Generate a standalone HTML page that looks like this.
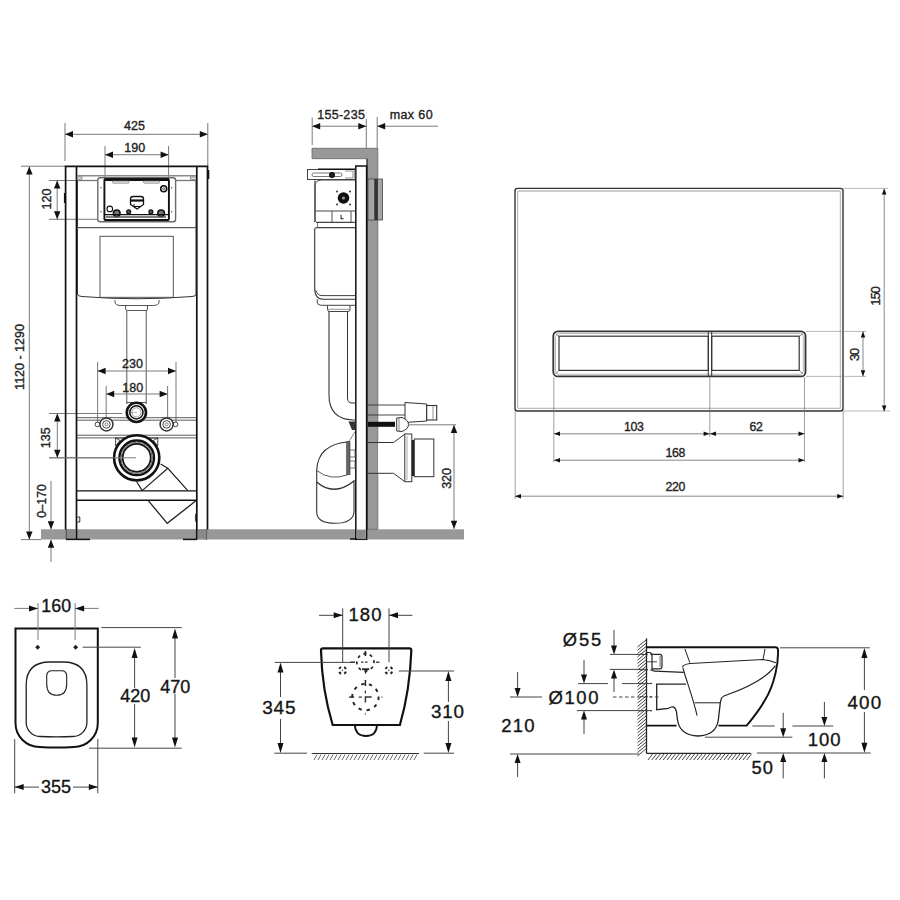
<!DOCTYPE html>
<html><head><meta charset="utf-8"><style>
html,body{margin:0;padding:0;background:#fff;width:900px;height:900px;overflow:hidden}
svg{display:block}
text{font-family:"Liberation Sans", sans-serif}
</style></head><body>
<svg width="900" height="900" viewBox="0 0 900 900">
<rect x="0" y="0" width="900" height="900" fill="#fff"/>
<rect x="41" y="529.3" width="423" height="10.2" rx="0" stroke="none" stroke-width="0" fill="#989898" />
<line x1="65" y1="123" x2="65" y2="161" stroke="#7a7a7a" stroke-width="1.0" />
<line x1="207.8" y1="123" x2="207.8" y2="166" stroke="#7a7a7a" stroke-width="1.0" />
<line x1="65" y1="134.3" x2="207.8" y2="134.3" stroke="#7a7a7a" stroke-width="1.0" />
<polygon points="65,134.3 73,131.05 73,137.55" fill="#111"/>
<polygon points="207.8,134.3 199.8,131.05 199.8,137.55" fill="#111"/>
<text x="134.5" y="126.3" font-size="12.5" text-anchor="middle" dominant-baseline="central" fill="#222" stroke="#222" stroke-width="0.35">425</text>
<line x1="105" y1="146" x2="105" y2="178" stroke="#7a7a7a" stroke-width="1.0" />
<line x1="168.6" y1="146" x2="168.6" y2="178" stroke="#7a7a7a" stroke-width="1.0" />
<line x1="105" y1="154.7" x2="168.6" y2="154.7" stroke="#7a7a7a" stroke-width="1.0" />
<polygon points="105,154.7 113,151.45 113,157.95" fill="#111"/>
<polygon points="168.6,154.7 160.6,151.45 160.6,157.95" fill="#111"/>
<text x="134.8" y="148" font-size="12.5" text-anchor="middle" dominant-baseline="central" fill="#222" stroke="#222" stroke-width="0.35">190</text>
<line x1="21" y1="166.2" x2="65" y2="166.2" stroke="#7a7a7a" stroke-width="1.0" />
<line x1="29.3" y1="166.5" x2="29.3" y2="539.5" stroke="#7a7a7a" stroke-width="1.0" />
<polygon points="29.3,166.5 26.05,174.5 32.55,174.5" fill="#111"/>
<polygon points="29.3,539.5 26.05,531.5 32.55,531.5" fill="#111"/>
<line x1="21" y1="539.6" x2="41" y2="539.6" stroke="#7a7a7a" stroke-width="1.0" />
<text x="19.5" y="357" font-size="12.5" text-anchor="middle" dominant-baseline="central" fill="#222" transform="rotate(-90 19.5 357)" stroke="#222" stroke-width="0.35">1120 - 1290</text>
<line x1="49" y1="180.5" x2="98" y2="180.5" stroke="#7a7a7a" stroke-width="1.0" />
<line x1="49" y1="219.3" x2="98" y2="219.3" stroke="#7a7a7a" stroke-width="1.0" />
<line x1="57.2" y1="180.5" x2="57.2" y2="219.3" stroke="#7a7a7a" stroke-width="1.0" />
<polygon points="57.2,180.5 53.95,188.5 60.45,188.5" fill="#111"/>
<polygon points="57.2,219.3 53.95,211.3 60.45,211.3" fill="#111"/>
<text x="46.5" y="199" font-size="12.5" text-anchor="middle" dominant-baseline="central" fill="#222" transform="rotate(-90 46.5 199)" stroke="#222" stroke-width="0.35">120</text>
<line x1="49" y1="413.5" x2="122" y2="413.5" stroke="#7a7a7a" stroke-width="1.0" />
<line x1="49" y1="457.8" x2="136" y2="457.8" stroke="#7a7a7a" stroke-width="1.0" />
<line x1="57.3" y1="413.5" x2="57.3" y2="457.8" stroke="#7a7a7a" stroke-width="1.0" />
<polygon points="57.3,413.5 54.05,421.5 60.55,421.5" fill="#111"/>
<polygon points="57.3,457.8 54.05,449.8 60.55,449.8" fill="#111"/>
<text x="46.2" y="437.7" font-size="12.5" text-anchor="middle" dominant-baseline="central" fill="#222" transform="rotate(-90 46.2 437.7)" stroke="#222" stroke-width="0.35">135</text>
<line x1="51" y1="481" x2="51" y2="529.3" stroke="#7a7a7a" stroke-width="1.0" />
<polygon points="51,529.3 47.75,521.3 54.25,521.3" fill="#111"/>
<line x1="51" y1="540" x2="51" y2="562" stroke="#7a7a7a" stroke-width="1.0" />
<polygon points="51,539.8 47.75,547.8 54.25,547.8" fill="#111"/>
<text x="42.2" y="501.1" font-size="12" text-anchor="middle" dominant-baseline="central" fill="#222" transform="rotate(-90 42.2 501.1)" stroke="#222" stroke-width="0.35">0–170</text>
<line x1="65.6" y1="166.4" x2="65.6" y2="529.5" stroke="#111" stroke-width="1.7" />
<line x1="76.5" y1="166.4" x2="76.5" y2="539.5" stroke="#111" stroke-width="1.7" />
<line x1="196.8" y1="166.4" x2="196.8" y2="539.5" stroke="#111" stroke-width="1.7" />
<line x1="207.5" y1="166.4" x2="207.5" y2="529.5" stroke="#111" stroke-width="1.7" />
<line x1="66.6" y1="529.3" x2="66.6" y2="539.5" stroke="#111" stroke-width="1.5" />
<line x1="206.3" y1="529.3" x2="206.3" y2="539.5" stroke="#111" stroke-width="1.5" />
<line x1="64.8" y1="166.4" x2="208.3" y2="166.4" stroke="#111" stroke-width="1.8" />
<rect x="66.4" y="529.3" width="9.3" height="10" rx="0" stroke="none" stroke-width="0" fill="#8a8a8a" />
<rect x="197.6" y="529.3" width="9.1" height="10" rx="0" stroke="none" stroke-width="0" fill="#8a8a8a" />
<line x1="66" y1="539.4" x2="90" y2="539.4" stroke="#111" stroke-width="1.5" />
<line x1="183" y1="539.4" x2="196.8" y2="539.4" stroke="#111" stroke-width="1.5" />
<path d="M64.6,193 L64.6,203" stroke="#111" stroke-width="1.4" fill="none" />
<path d="M208.6,170 L208.6,179" stroke="#111" stroke-width="1.4" fill="none" />
<path d="M77.6,517 L79.8,517 L79.8,522 L77.6,522" stroke="#111" stroke-width="0.9" fill="none" />
<path d="M196,513.5 Q194.6,517.8 196,522" stroke="#111" stroke-width="0.9" fill="none" />
<line x1="77" y1="175.8" x2="196" y2="175.8" stroke="#8a8a8a" stroke-width="1.5" />
<path d="M77.5,177 L82,177 L82,179.2 L77.5,179.2 M196,177 L190.5,177 L190.5,179.2 L196,179.2" stroke="#666" stroke-width="0.8" fill="none" />
<path d="M77.5,180 L77.5,227.7 L196,227.7 L196,180" stroke="#333" stroke-width="1.0" fill="none" />
<line x1="77.5" y1="180.5" x2="97" y2="180.5" stroke="#777" stroke-width="1.3" />
<line x1="176" y1="180.5" x2="196" y2="180.5" stroke="#777" stroke-width="1.3" />
<rect x="97.8" y="177.8" width="77.8" height="44" rx="2.5" stroke="#6a6a6a" stroke-width="1.4" fill="#fff" />
<rect x="104.4" y="179.2" width="64.5" height="40.8" rx="1" stroke="#111" stroke-width="1.9" fill="none" />
<line x1="104.4" y1="179.6" x2="168.9" y2="179.6" stroke="#111" stroke-width="2.6" />
<path d="M112,181 L129.4,181 L128.5,183.3 L113,183.3 Z M143,181 L160,181 L159,183.3 L144,183.3 Z" stroke="#777" stroke-width="0.6" fill="#ddd" />
<circle cx="163.7" cy="188.7" r="3.0" stroke="#111" stroke-width="1.6" fill="#fff" />
<circle cx="163.7" cy="188.7" r="1.0" stroke="#444" stroke-width="0.8" fill="none" />
<circle cx="109.8" cy="208.9" r="2.8" stroke="#111" stroke-width="1.1" fill="none" />
<path d="M130.5,204.5 L130.5,199 Q130.5,196.5 133,196.5 L141,196.5 Q143.5,196.5 143.5,199 L143.5,204.5 L137,209 Z" stroke="#111" stroke-width="1.3" fill="none" />
<line x1="130.5" y1="200.5" x2="143.5" y2="200.5" stroke="#111" stroke-width="2.2" />
<path d="M134,204 L134,206.5 L141,206.5" stroke="#111" stroke-width="1.0" fill="none" />
<circle cx="116.7" cy="213.3" r="3.3" stroke="#111" stroke-width="1.6" fill="#777" />
<circle cx="161.1" cy="213.3" r="3.3" stroke="#111" stroke-width="1.6" fill="#777" />
<circle cx="128.7" cy="211.8" r="2.0" stroke="#111" stroke-width="1.2" fill="#555" />
<circle cx="150.9" cy="211.8" r="2.0" stroke="#111" stroke-width="1.2" fill="#555" />
<line x1="105" y1="214.6" x2="168.5" y2="214.6" stroke="#111" stroke-width="1.2" />
<path d="M106,217 L166,217" stroke="#555" stroke-width="1.4" fill="none" />
<circle cx="101" cy="187.8" r="0.7" stroke="none" stroke-width="0" fill="#444" />
<circle cx="101" cy="211.7" r="0.7" stroke="none" stroke-width="0" fill="#444" />
<circle cx="171.7" cy="187.8" r="0.7" stroke="none" stroke-width="0" fill="#444" />
<circle cx="171.7" cy="211.7" r="0.7" stroke="none" stroke-width="0" fill="#444" />
<path d="M77.5,228.5 L77.5,294 Q78,296.5 82,296.5 Q137,301 192,296.5 Q196,296.5 196,294 L196,228.5" stroke="#333" stroke-width="1.0" fill="none" />
<rect x="100" y="236.3" width="73.3" height="61" rx="0" stroke="#444" stroke-width="0.9" fill="none" />
<path d="M115,300 L115,303 Q116,305.5 120,305.5 L154,305.5 Q158,305.5 159,303 L159,300" stroke="#444" stroke-width="0.9" fill="none" />
<path d="M125.6,305.5 L125.6,309 Q126,310.5 127.5,310.5 L146,310.5 Q147.5,310.5 147.5,309 L147.5,305.5" stroke="#444" stroke-width="0.9" fill="none" />
<line x1="126.8" y1="310.5" x2="126.8" y2="404" stroke="#444" stroke-width="0.9" />
<line x1="146.2" y1="310.5" x2="146.2" y2="404" stroke="#444" stroke-width="0.9" />
<line x1="97.6" y1="362" x2="97.6" y2="424" stroke="#7a7a7a" stroke-width="1.0" />
<line x1="176" y1="362" x2="176" y2="424" stroke="#7a7a7a" stroke-width="1.0" />
<line x1="97.6" y1="371" x2="176" y2="371" stroke="#7a7a7a" stroke-width="1.0" />
<polygon points="97.6,371 105.6,367.75 105.6,374.25" fill="#111"/>
<polygon points="176,371 168,367.75 168,374.25" fill="#111"/>
<text x="132.5" y="364" font-size="12.5" text-anchor="middle" dominant-baseline="central" fill="#222" stroke="#222" stroke-width="0.35">230</text>
<line x1="106.2" y1="386" x2="106.2" y2="424" stroke="#7a7a7a" stroke-width="1.0" />
<line x1="167.6" y1="386" x2="167.6" y2="424" stroke="#7a7a7a" stroke-width="1.0" />
<line x1="106.2" y1="394" x2="167.6" y2="394" stroke="#7a7a7a" stroke-width="1.0" />
<polygon points="106.2,394 114.2,390.75 114.2,397.25" fill="#111"/>
<polygon points="167.6,394 159.6,390.75 159.6,397.25" fill="#111"/>
<text x="132.7" y="388" font-size="12.5" text-anchor="middle" dominant-baseline="central" fill="#222" stroke="#222" stroke-width="0.35">180</text>
<line x1="77" y1="417.7" x2="196" y2="417.7" stroke="#333" stroke-width="0.8" />
<line x1="77" y1="420.2" x2="196" y2="420.2" stroke="#333" stroke-width="0.8" />
<line x1="77" y1="435.2" x2="196" y2="435.2" stroke="#333" stroke-width="0.8" />
<line x1="77" y1="437.9" x2="196" y2="437.9" stroke="#333" stroke-width="0.8" />
<line x1="126.8" y1="402.5" x2="146.2" y2="402.5" stroke="#444" stroke-width="0.9" />
<circle cx="136.4" cy="412.4" r="9.6" stroke="#111" stroke-width="2.6" fill="#fff" />
<circle cx="136.4" cy="412.4" r="6.6" stroke="#111" stroke-width="1.5" fill="none" />
<circle cx="136.4" cy="412.4" r="4.6" stroke="#777" stroke-width="0.7" fill="none" />
<line x1="131" y1="412.4" x2="137" y2="412.4" stroke="#888" stroke-width="0.6" />
<circle cx="97.4" cy="424.4" r="2.3" stroke="#444" stroke-width="1.0" fill="#fff" />
<circle cx="106.4" cy="424.4" r="6.5" stroke="#333" stroke-width="1.5" fill="#fff" />
<circle cx="106.4" cy="424.4" r="3.8" stroke="#444" stroke-width="1.0" fill="none" />
<circle cx="106.4" cy="424.4" r="1.5" stroke="#555" stroke-width="0.7" fill="none" />
<circle cx="175.6" cy="424.4" r="2.3" stroke="#444" stroke-width="1.0" fill="#fff" />
<circle cx="166.6" cy="424.4" r="6.5" stroke="#333" stroke-width="1.5" fill="#fff" />
<circle cx="166.6" cy="424.4" r="3.8" stroke="#444" stroke-width="1.0" fill="none" />
<circle cx="166.6" cy="424.4" r="1.5" stroke="#555" stroke-width="0.7" fill="none" />
<path d="M115.6,438 L115.6,446 L120,440.5 Z M157.8,438 L157.8,446 L153.4,440.5 Z" stroke="#333" stroke-width="0.9" fill="none" />
<line x1="115.6" y1="438" x2="157.8" y2="438" stroke="#333" stroke-width="0.9" />
<path d="M160.6,463.9 L167.8,468.3 L187.8,490.6 M142.2,490.6 L167.8,468.3 M136.7,481.7 L142.2,490.6" stroke="#222" stroke-width="1.2" fill="none" />
<path d="M148.3,500.6 L167.2,523.3 L195.6,501.1" stroke="#222" stroke-width="1.3" fill="none" />
<circle cx="136.7" cy="457.8" r="22.6" stroke="#111" stroke-width="2.6" fill="#fff" />
<circle cx="136.7" cy="457.8" r="17.3" stroke="#111" stroke-width="2.4" fill="none" />
<circle cx="136.7" cy="457.8" r="15.7" stroke="#666" stroke-width="1.0" fill="none" />
<circle cx="136.7" cy="457.8" r="14.0" stroke="#111" stroke-width="1.7" fill="none" />
<line x1="49" y1="457.8" x2="136" y2="457.8" stroke="#7a7a7a" stroke-width="1.0" />
<line x1="77" y1="490.9" x2="196" y2="490.9" stroke="#111" stroke-width="1.4" />
<line x1="77" y1="500.2" x2="196" y2="500.2" stroke="#111" stroke-width="1.4" />
<line x1="312.2" y1="117.5" x2="312.2" y2="145" stroke="#7a7a7a" stroke-width="1.0" />
<line x1="366.3" y1="119" x2="366.3" y2="148" stroke="#7a7a7a" stroke-width="1.0" />
<line x1="312.2" y1="126.2" x2="366.3" y2="126.2" stroke="#7a7a7a" stroke-width="1.0" />
<polygon points="312.2,126.2 320.2,122.95 320.2,129.45" fill="#111"/>
<polygon points="366.3,126.2 358.3,122.95 358.3,129.45" fill="#111"/>
<text x="341.15" y="114.6" font-size="12.5" text-anchor="middle" dominant-baseline="central" fill="#222" letter-spacing="0.3" stroke="#222" stroke-width="0.35">155-235</text>
<line x1="377.2" y1="117" x2="377.2" y2="148" stroke="#7a7a7a" stroke-width="1.0" />
<line x1="377.2" y1="126.2" x2="438" y2="126.2" stroke="#7a7a7a" stroke-width="1.0" />
<polygon points="377.2,126.2 385.2,122.95 385.2,129.45" fill="#111"/>
<text x="411.4" y="114.5" font-size="12.5" text-anchor="middle" dominant-baseline="central" fill="#222" letter-spacing="0.4" stroke="#222" stroke-width="0.35">max 60</text>
<path d="M312,148.3 L377.8,148.3 L377.8,529.3 L366.7,529.3 L366.7,158.7 L312,158.7 Z" stroke="#666" stroke-width="0.8" fill="#989898" />
<line x1="367.2" y1="158.7" x2="367.2" y2="529.3" stroke="#444" stroke-width="1.3" />
<rect x="355.8" y="166" width="10.8" height="373.3" rx="0" stroke="#111" stroke-width="1.5" fill="#fff" />
<rect x="356.8" y="529.6" width="9" height="9.5" rx="0" stroke="none" stroke-width="0" fill="#8a8a8a" />
<line x1="350" y1="539" x2="357" y2="539" stroke="#111" stroke-width="1.5" />
<rect x="307.5" y="169.5" width="47.5" height="10" rx="0" stroke="#444" stroke-width="1.0" fill="#fff" />
<rect x="312" y="173" width="30" height="3.5" rx="1.7" stroke="#555" stroke-width="0.8" fill="none" />
<circle cx="332" cy="175" r="2.4" stroke="#111" stroke-width="1.2" fill="#222" />
<line x1="318" y1="169.3" x2="355" y2="169.3" stroke="#111" stroke-width="1.4" />
<path d="M345,171 L353,171 L353,178 L345,178" stroke="#666" stroke-width="0.7" fill="none" />
<path d="M315,222 L315,186 Q315,180 322,180 L355,180" stroke="#444" stroke-width="1.0" fill="none" />
<line x1="315" y1="180.5" x2="315" y2="222" stroke="#444" stroke-width="1.2" />
<circle cx="343.5" cy="198" r="5.8" stroke="none" stroke-width="0" fill="#111" />
<circle cx="343.5" cy="198" r="1.6" stroke="none" stroke-width="0" fill="#999" />
<circle cx="337" cy="191.5" r="0.9" stroke="none" stroke-width="0" fill="#222" />
<circle cx="350" cy="191.5" r="0.9" stroke="none" stroke-width="0" fill="#222" />
<circle cx="337" cy="204.5" r="0.9" stroke="none" stroke-width="0" fill="#222" />
<circle cx="350" cy="204.5" r="0.9" stroke="none" stroke-width="0" fill="#222" />
<line x1="316" y1="211" x2="355" y2="211" stroke="#444" stroke-width="1.0" />
<line x1="316" y1="222.3" x2="355" y2="222.3" stroke="#444" stroke-width="1.2" />
<line x1="332" y1="211" x2="332" y2="222" stroke="#555" stroke-width="1.0" />
<line x1="351" y1="211" x2="351" y2="222" stroke="#555" stroke-width="1.0" />
<text x="342" y="216.8" font-size="6" text-anchor="middle" dominant-baseline="central" fill="#333" stroke="#222" stroke-width="0.35">L</text>
<path d="M317.5,222.5 L317.5,227.5 L355,227.5" stroke="#555" stroke-width="0.8" fill="none" />
<rect x="368" y="179" width="14.5" height="41" rx="0" stroke="#444" stroke-width="0.8" fill="#a5a5a5" />
<rect x="374.3" y="179" width="3.6" height="41" rx="0" stroke="none" stroke-width="0" fill="#333" />
<path d="M355,227.8 L316.5,227.8 Q314.7,227.8 314.7,229.6 L314.7,288 Q314.7,299.2 323,299.2 L355,299.2" stroke="#333" stroke-width="1.1" fill="none" />
<path d="M316,290.5 Q317.5,295.6 322,295.6 L355,295.6" stroke="#444" stroke-width="1.0" fill="none" />
<path d="M317.3,299.2 L317.3,302 Q317.3,305.3 321,305.3 L355,305.3" stroke="#444" stroke-width="1.0" fill="none" />
<path d="M327.5,305.3 L327.5,309.5 Q327.5,311.5 329.5,311.5 L348,311.5 Q350,311.5 350,309.5 L350,305.3" stroke="#444" stroke-width="1.0" fill="none" />
<line x1="328" y1="309.3" x2="349.5" y2="309.3" stroke="#666" stroke-width="0.7" />
<path d="M329,311 L329,395 Q329,419 353,420 L355.5,420" stroke="#333" stroke-width="1.1" fill="none" />
<path d="M347.5,311 L347.5,398 Q347.5,403 352,403 L355.5,403" stroke="#333" stroke-width="1.0" fill="none" />
<path d="M349,441.7 Q318,444 316.7,470 L316.7,512 Q317,523.3 335,523.3 Q353,523.3 354,512 L354,480" stroke="#333" stroke-width="1.1" fill="none" />
<path d="M316.7,470.5 Q330,481 347,475" stroke="#444" stroke-width="0.9" fill="none" />
<path d="M316.7,482 Q334,497 354,481" stroke="#333" stroke-width="1.4" fill="none" />
<rect x="346.7" y="441.7" width="3.3" height="33" rx="0" stroke="#333" stroke-width="0.6" fill="#666" />
<path d="M350,450 L355,450 L355,457 L350,457 M350,461 L355,461 L355,468 L350,468" stroke="#555" stroke-width="0.8" fill="none" />
<path d="M349,441.7 L355,431.5" stroke="#666" stroke-width="0.8" fill="none" />
<polygon points="348.5,421.5 355.5,421.5 355.5,430 352,430" fill="#333"/>
<line x1="368" y1="405" x2="405" y2="405" stroke="#333" stroke-width="0.9" />
<line x1="368" y1="415" x2="405" y2="415" stroke="#333" stroke-width="0.9" />
<path d="M405,402.5 L426.7,404 L426.7,421 L405,422.5 Z" stroke="#333" stroke-width="1.0" fill="#fff" />
<rect x="426.7" y="405.5" width="10" height="14.5" rx="0" stroke="#333" stroke-width="1.1" fill="#fff" />
<line x1="433" y1="406" x2="433" y2="419.5" stroke="#666" stroke-width="0.7" />
<rect x="368" y="421.8" width="27" height="5" rx="0" stroke="none" stroke-width="0" fill="#111" />
<path d="M396.7,418 L402,417.5 Q408.5,420 408.5,424.5 Q408.5,429 402,431.5 L396.7,431 Z" stroke="#333" stroke-width="1.0" fill="#fff" />
<line x1="399" y1="418" x2="399" y2="431" stroke="#555" stroke-width="0.7" />
<path d="M378,442.5 L393.5,442.5 L404.8,434.2 L404.8,481.7 L393.5,473.3 L378,473.3 Z" stroke="none" stroke-width="0" fill="#fff" />
<path d="M368,442.5 L393.5,442.5 L404.8,434.2 M404.8,481.7 L393.5,473.3 L368,473.3" stroke="#333" stroke-width="1.0" fill="none" />
<rect x="404.8" y="434" width="7" height="47.7" rx="0" stroke="#333" stroke-width="1.0" fill="#fff" />
<line x1="407" y1="436" x2="407" y2="480" stroke="#777" stroke-width="0.6" />
<rect x="411.8" y="440" width="2.6" height="36" rx="0" stroke="none" stroke-width="0" fill="#222" />
<rect x="414.3" y="439" width="19.5" height="37.7" rx="0" stroke="#333" stroke-width="1.0" fill="#fff" />
<line x1="408" y1="424.8" x2="456" y2="424.8" stroke="#7a7a7a" stroke-width="1.0" />
<line x1="454" y1="425" x2="454" y2="529" stroke="#7a7a7a" stroke-width="1.0" />
<polygon points="454,425 450.75,433 457.25,433" fill="#111"/>
<polygon points="454,528.8 450.75,520.8 457.25,520.8" fill="#111"/>
<text x="447" y="478.4" font-size="12.5" text-anchor="middle" dominant-baseline="central" fill="#222" transform="rotate(-90 447 478.4)" stroke="#222" stroke-width="0.35">320</text>
<rect x="515" y="188.4" width="328" height="222.6" rx="2.5" stroke="#333" stroke-width="1.4" fill="none" />
<rect x="517.6" y="191.0" width="322.8" height="217.4" rx="1" stroke="#bdbdbd" stroke-width="1.3" fill="none" />
<rect x="553.3" y="331.4" width="252.2" height="45" rx="4.5" stroke="#333" stroke-width="1.8" fill="none" />
<rect x="555.5" y="333.6" width="247.8" height="40.6" rx="3" stroke="#999" stroke-width="0.7" fill="none" />
<rect x="559" y="336.2" width="149.3" height="34.2" rx="0" stroke="#333" stroke-width="1.2" fill="none" />
<rect x="711.7" y="336.2" width="87.5" height="34.2" rx="0" stroke="#333" stroke-width="1.2" fill="none" />
<line x1="708.3" y1="332" x2="708.3" y2="376" stroke="#333" stroke-width="1.0" />
<line x1="711.7" y1="332" x2="711.7" y2="376" stroke="#333" stroke-width="1.0" />
<line x1="559" y1="336.2" x2="555.5" y2="333.6" stroke="#555" stroke-width="0.7" />
<line x1="559" y1="370.4" x2="555.5" y2="374" stroke="#555" stroke-width="0.7" />
<line x1="799.2" y1="336.2" x2="803" y2="333.6" stroke="#555" stroke-width="0.7" />
<line x1="799.2" y1="370.4" x2="803" y2="374" stroke="#555" stroke-width="0.7" />
<line x1="843.5" y1="188.4" x2="888" y2="188.4" stroke="#888" stroke-width="0.6" />
<line x1="843.5" y1="411" x2="890" y2="411" stroke="#888" stroke-width="0.6" />
<line x1="884.2" y1="189" x2="884.2" y2="411" stroke="#555" stroke-width="0.7" />
<polygon points="884.2,188.4 881.95,194.4 886.45,194.4" fill="#111"/>
<polygon points="884.2,411.5 881.95,405.5 886.45,405.5" fill="#111"/>
<text x="875.6" y="296.2" font-size="12.8" text-anchor="middle" dominant-baseline="central" fill="#222" transform="rotate(-90 875.6 296.2)" letter-spacing="-1.0" stroke="#222" stroke-width="0.35">150</text>
<line x1="806" y1="331.4" x2="866" y2="331.4" stroke="#888" stroke-width="0.6" />
<line x1="806" y1="376.4" x2="866" y2="376.4" stroke="#888" stroke-width="0.6" />
<line x1="863" y1="331.4" x2="863" y2="376.4" stroke="#555" stroke-width="0.7" />
<polygon points="863,331.5 860.75,337.5 865.25,337.5" fill="#111"/>
<polygon points="863,376.3 860.75,370.3 865.25,370.3" fill="#111"/>
<text x="854.8" y="354.9" font-size="12.8" text-anchor="middle" dominant-baseline="central" fill="#222" transform="rotate(-90 854.8 354.9)" letter-spacing="-1.0" stroke="#222" stroke-width="0.35">30</text>
<line x1="553.8" y1="377" x2="553.8" y2="462" stroke="#777" stroke-width="0.7" />
<line x1="709.8" y1="377" x2="709.8" y2="437" stroke="#777" stroke-width="0.7" />
<line x1="804.5" y1="377" x2="804.5" y2="462" stroke="#777" stroke-width="0.7" />
<line x1="515.2" y1="411" x2="515.2" y2="499" stroke="#777" stroke-width="0.7" />
<line x1="843.2" y1="411" x2="843.2" y2="499" stroke="#777" stroke-width="0.7" />
<line x1="554" y1="433.8" x2="804.5" y2="433.8" stroke="#555" stroke-width="0.7" />
<polygon points="554,433.8 560,431.55 560,436.05" fill="#111"/>
<polygon points="709.6,433.8 703.6,431.55 703.6,436.05" fill="#111"/>
<polygon points="710,433.8 716,431.55 716,436.05" fill="#111"/>
<polygon points="804.5,433.8 798.5,431.55 798.5,436.05" fill="#111"/>
<text x="633.825" y="427.2" font-size="12.3" text-anchor="middle" dominant-baseline="central" fill="#222" letter-spacing="-0.35" stroke="#222" stroke-width="0.35">103</text>
<text x="755.9250000000001" y="427.2" font-size="12.3" text-anchor="middle" dominant-baseline="central" fill="#222" letter-spacing="-0.35" stroke="#222" stroke-width="0.35">62</text>
<line x1="554" y1="460.2" x2="804.5" y2="460.2" stroke="#555" stroke-width="0.7" />
<polygon points="554,460.2 560,457.95 560,462.45" fill="#111"/>
<polygon points="804.5,460.2 798.5,457.95 798.5,462.45" fill="#111"/>
<text x="675.325" y="452.5" font-size="12.3" text-anchor="middle" dominant-baseline="central" fill="#222" letter-spacing="-0.35" stroke="#222" stroke-width="0.35">168</text>
<line x1="515" y1="496.2" x2="843.2" y2="496.2" stroke="#555" stroke-width="0.7" />
<polygon points="515,496.2 521,493.95 521,498.45" fill="#111"/>
<polygon points="843.2,496.2 837.2,493.95 837.2,498.45" fill="#111"/>
<text x="675.325" y="487.3" font-size="12.3" text-anchor="middle" dominant-baseline="central" fill="#222" letter-spacing="-0.35" stroke="#222" stroke-width="0.35">220</text>
<path d="M15.5,628.4 L97.8,628.4 L97.8,723 C97.8,736.3 87,747 73.8,747 Q56.6,748 39.5,747 C26.3,747 15.5,736.3 15.5,723 Z" stroke="#111" stroke-width="2.0" fill="none" />
<path d="M26.2,722.5 L26.2,685 Q26.2,662 50,662 L63,662 Q86.9,662 86.9,685 L86.9,722.5 C86.9,730.2 80.6,736.5 72.9,736.5 Q56.5,737.2 40.2,736.5 C32.5,736.5 26.2,730.2 26.2,722.5 Z" stroke="#222" stroke-width="1.3" fill="none" />
<path d="M46.7,676 Q46.7,670.7 52,670.7 L61.5,670.7 Q66.7,670.7 66.7,676 L66.7,684 Q66.7,695.3 56.7,695.3 Q46.7,695.3 46.7,684 Z" stroke="#222" stroke-width="1.1" fill="none" />
<polygon points="37.7,644.8 40.2,647.3 37.7,649.8 35.2,647.3" fill="#222"/>
<polygon points="75.6,644.8 78.1,647.3 75.6,649.8 73.1,647.3" fill="#222"/>
<line x1="38" y1="603" x2="38" y2="640" stroke="#7a7a7a" stroke-width="1.0" />
<line x1="75.1" y1="603" x2="75.1" y2="640" stroke="#7a7a7a" stroke-width="1.0" />
<line x1="14.3" y1="608.4" x2="38" y2="608.4" stroke="#7a7a7a" stroke-width="1.0" />
<polygon points="38,608.4 29,605.4 29,611.4" fill="#111"/>
<line x1="75.1" y1="608.4" x2="98.7" y2="608.4" stroke="#7a7a7a" stroke-width="1.0" />
<polygon points="75.1,608.4 84.1,605.4 84.1,611.4" fill="#111"/>
<text x="56.2" y="606" font-size="17.8" text-anchor="middle" dominant-baseline="central" fill="#111" stroke="#222" stroke-width="0.35">160</text>
<line x1="101.3" y1="627.6" x2="181.7" y2="627.6" stroke="#444" stroke-width="1.0" />
<line x1="82.7" y1="647.2" x2="140.8" y2="647.2" stroke="#444" stroke-width="1.0" />
<line x1="89" y1="748.2" x2="181.7" y2="748.2" stroke="#444" stroke-width="1.0" />
<line x1="134.6" y1="656" x2="134.6" y2="688" stroke="#444" stroke-width="1.0" />
<line x1="134.6" y1="704" x2="134.6" y2="740" stroke="#444" stroke-width="1.0" />
<polygon points="134.6,648 131.6,658 137.6,658" fill="#111"/>
<polygon points="134.6,747.5 131.6,737.5 137.6,737.5" fill="#111"/>
<text x="135.2" y="696" font-size="18" text-anchor="middle" dominant-baseline="central" fill="#111" stroke="#222" stroke-width="0.35">420</text>
<line x1="175" y1="636" x2="175" y2="678" stroke="#444" stroke-width="1.0" />
<line x1="175" y1="694" x2="175" y2="740" stroke="#444" stroke-width="1.0" />
<polygon points="175,628.5 172.0,638.5 178.0,638.5" fill="#111"/>
<polygon points="175,747.5 172.0,737.5 178.0,737.5" fill="#111"/>
<text x="175.2" y="686.5" font-size="18" text-anchor="middle" dominant-baseline="central" fill="#111" stroke="#222" stroke-width="0.35">470</text>
<line x1="14.7" y1="739" x2="14.7" y2="793.3" stroke="#444" stroke-width="1.0" />
<line x1="97.8" y1="739" x2="97.8" y2="793.3" stroke="#444" stroke-width="1.0" />
<line x1="14.7" y1="787.1" x2="39" y2="787.1" stroke="#444" stroke-width="1.0" />
<line x1="73" y1="787.1" x2="97.8" y2="787.1" stroke="#444" stroke-width="1.0" />
<polygon points="14.7,787.1 23.7,784.1 23.7,790.1" fill="#111"/>
<polygon points="97.8,787.1 88.8,784.1 88.8,790.1" fill="#111"/>
<text x="56" y="787" font-size="18" text-anchor="middle" dominant-baseline="central" fill="#111" stroke="#222" stroke-width="0.35">355</text>
<path d="M323,648.3 L409.5,648.3 Q411.3,648.3 411.3,650.5 Q410,690 399.9,725 L332.7,725 Q322,690 321,650.5 Q321,648.3 323,648.3 Z" stroke="#111" stroke-width="2.2" fill="none" />
<path d="M354.8,725 Q355.5,736 366,736 Q376.5,736 377,725" stroke="#111" stroke-width="1.8" fill="none" />
<line x1="311.7" y1="753.5" x2="419" y2="753.5" stroke="#333" stroke-width="1.2" />
<path d="M314,760 L317,754.5 M318.0,760 L321.0,754.5 M322.0,760 L325.0,754.5 M326.0,760 L329.0,754.5 M330.0,760 L333.0,754.5 M334.0,760 L337.0,754.5 M338.0,760 L341.0,754.5 M342.0,760 L345.0,754.5 M346.0,760 L349.0,754.5 M350.0,760 L353.0,754.5 M354.0,760 L357.0,754.5 M358.0,760 L361.0,754.5 M362.0,760 L365.0,754.5 M366.0,760 L369.0,754.5 M370.0,760 L373.0,754.5 M374.0,760 L377.0,754.5 M378.0,760 L381.0,754.5 M382.0,760 L385.0,754.5 M386.0,760 L389.0,754.5 M390.0,760 L393.0,754.5 M394.0,760 L397.0,754.5 M398.0,760 L401.0,754.5 M402.0,760 L405.0,754.5 M406.0,760 L409.0,754.5 M410.0,760 L413.0,754.5 M414.0,760 L417.0,754.5 " stroke="#444" stroke-width="0.8" fill="none" />
<line x1="342.7" y1="608.3" x2="342.7" y2="662.3" stroke="#444" stroke-width="1.0" />
<line x1="389" y1="608.3" x2="389" y2="662.3" stroke="#444" stroke-width="1.0" />
<line x1="319" y1="615.3" x2="342.7" y2="615.3" stroke="#444" stroke-width="1.0" />
<polygon points="342.7,615.3 333.7,612.3 333.7,618.3" fill="#111"/>
<line x1="389" y1="615.3" x2="412.4" y2="615.3" stroke="#444" stroke-width="1.0" />
<polygon points="389,615.3 398,612.3 398,618.3" fill="#111"/>
<text x="365.5" y="614.5" font-size="18.5" text-anchor="middle" dominant-baseline="central" fill="#111" letter-spacing="1.0" stroke="#222" stroke-width="0.35">180</text>
<line x1="274.7" y1="662.4" x2="351.7" y2="662.4" stroke="#444" stroke-width="1.0" />
<line x1="274.3" y1="753.2" x2="307" y2="753.2" stroke="#444" stroke-width="1.0" />
<line x1="280.5" y1="671" x2="280.5" y2="697" stroke="#444" stroke-width="1.0" />
<line x1="280.5" y1="719" x2="280.5" y2="745" stroke="#444" stroke-width="1.0" />
<polygon points="280.5,662.5 277.5,672.5 283.5,672.5" fill="#111"/>
<polygon points="280.5,753 277.5,743 283.5,743" fill="#111"/>
<text x="279.29999999999995" y="707.6" font-size="19" text-anchor="middle" dominant-baseline="central" fill="#111" letter-spacing="0.8" stroke="#222" stroke-width="0.35">345</text>
<line x1="398.7" y1="671" x2="454" y2="671" stroke="#444" stroke-width="1.0" />
<line x1="423.7" y1="753.2" x2="454" y2="753.2" stroke="#444" stroke-width="1.0" />
<line x1="448.4" y1="680" x2="448.4" y2="702" stroke="#444" stroke-width="1.0" />
<line x1="448.4" y1="721" x2="448.4" y2="745" stroke="#444" stroke-width="1.0" />
<polygon points="448.4,671 445.4,681 451.4,681" fill="#111"/>
<polygon points="448.4,753 445.4,743 451.4,743" fill="#111"/>
<text x="447.79999999999995" y="711" font-size="18.8" text-anchor="middle" dominant-baseline="central" fill="#111" letter-spacing="0.8" stroke="#222" stroke-width="0.35">310</text>
<circle cx="342.5" cy="670.4" r="3.6" stroke="#222" stroke-width="2.0" fill="none" stroke-dasharray="2.6 3.05" transform="rotate(20 342.5 670.4)"/>
<circle cx="342.5" cy="670.4" r="0.8" stroke="none" stroke-width="0" fill="#666" />
<circle cx="388.8" cy="670.4" r="3.6" stroke="#222" stroke-width="2.0" fill="none" stroke-dasharray="2.6 3.05" transform="rotate(20 388.8 670.4)"/>
<circle cx="388.8" cy="670.4" r="0.8" stroke="none" stroke-width="0" fill="#666" />
<circle cx="365.4" cy="662.3" r="8.6" stroke="#222" stroke-width="1.7" fill="none" stroke-dasharray="3 3.75" transform="rotate(-60 365.4 662.3)"/>
<line x1="365.4" y1="651" x2="365.4" y2="656" stroke="#222" stroke-width="1.6" />
<line x1="350.5" y1="662.2" x2="355" y2="662.2" stroke="#222" stroke-width="1.4" />
<line x1="376" y1="662.2" x2="379.5" y2="662.2" stroke="#222" stroke-width="1.2" />
<line x1="361" y1="662.2" x2="368" y2="662.2" stroke="#333" stroke-width="1.3" stroke-dasharray="2.5 1.5"/>
<line x1="362" y1="669.2" x2="369.2" y2="669.2" stroke="#222" stroke-width="1.8" />
<line x1="365.6" y1="669.2" x2="365.6" y2="673.5" stroke="#222" stroke-width="1.5" />
<circle cx="365.4" cy="697.1" r="13.2" stroke="#222" stroke-width="1.9" fill="none" stroke-dasharray="3.4 4.9" transform="rotate(-75 365.4 697.1)"/>
<line x1="365.4" y1="680" x2="365.4" y2="686" stroke="#222" stroke-width="1.5" />
<line x1="365.4" y1="690.5" x2="365.4" y2="693.5" stroke="#333" stroke-width="1.2" />
<line x1="349.2" y1="697.1" x2="354.2" y2="697.1" stroke="#222" stroke-width="1.4" />
<line x1="358.7" y1="697.1" x2="362" y2="697.1" stroke="#333" stroke-width="1.2" />
<line x1="381" y1="697.1" x2="383" y2="697.1" stroke="#777" stroke-width="0.8" />
<path d="M371.7,697.1 L365.4,697.1 L365.4,702.5" stroke="#333" stroke-width="1.5" fill="none" />
<line x1="365.4" y1="713" x2="365.4" y2="715" stroke="#666" stroke-width="0.9" />
<line x1="646.5" y1="638.3" x2="646.5" y2="753.3" stroke="#222" stroke-width="1.3" />
<line x1="646.5" y1="753.3" x2="750.8" y2="753.3" stroke="#222" stroke-width="1.3" />
<path d="M637.5,647 L646,640 M637.5,650.3 L646,643.3 M637.5,653.5999999999999 L646,646.5999999999999 M637.5,656.8999999999999 L646,649.8999999999999 M637.5,660.1999999999998 L646,653.1999999999998 M637.5,663.4999999999998 L646,656.4999999999998 M637.5,666.7999999999997 L646,659.7999999999997 M637.5,670.0999999999997 L646,663.0999999999997 M637.5,673.3999999999996 L646,666.3999999999996 M637.5,676.6999999999996 L646,669.6999999999996 M637.5,679.9999999999995 L646,672.9999999999995 M637.5,683.2999999999995 L646,676.2999999999995 M637.5,686.5999999999995 L646,679.5999999999995 M637.5,689.8999999999994 L646,682.8999999999994 M637.5,693.1999999999994 L646,686.1999999999994 M637.5,696.4999999999993 L646,689.4999999999993 M637.5,699.7999999999993 L646,692.7999999999993 M637.5,703.0999999999992 L646,696.0999999999992 M637.5,706.3999999999992 L646,699.3999999999992 M637.5,709.6999999999991 L646,702.6999999999991 M637.5,712.9999999999991 L646,705.9999999999991 M637.5,716.299999999999 L646,709.299999999999 M637.5,719.599999999999 L646,712.599999999999 M637.5,722.899999999999 L646,715.899999999999 M637.5,726.1999999999989 L646,719.1999999999989 M637.5,729.4999999999989 L646,722.4999999999989 M637.5,732.7999999999988 L646,725.7999999999988 M637.5,736.0999999999988 L646,729.0999999999988 M637.5,739.3999999999987 L646,732.3999999999987 M637.5,742.6999999999987 L646,735.6999999999987 M637.5,745.9999999999986 L646,738.9999999999986 M637.5,749.2999999999986 L646,742.2999999999986 M637.5,752.5999999999985 L646,745.5999999999985 M637.5,755.8999999999985 L646,748.8999999999985 " stroke="#444" stroke-width="1.0" fill="none" />
<path d="M648,760 L653,753.5 M651.8,760 L656.8,753.5 M655.5999999999999,760 L660.5999999999999,753.5 M659.3999999999999,760 L664.3999999999999,753.5 M663.1999999999998,760 L668.1999999999998,753.5 M666.9999999999998,760 L671.9999999999998,753.5 M670.7999999999997,760 L675.7999999999997,753.5 M674.5999999999997,760 L679.5999999999997,753.5 M678.3999999999996,760 L683.3999999999996,753.5 M682.1999999999996,760 L687.1999999999996,753.5 M685.9999999999995,760 L690.9999999999995,753.5 M689.7999999999995,760 L694.7999999999995,753.5 M693.5999999999995,760 L698.5999999999995,753.5 M697.3999999999994,760 L702.3999999999994,753.5 M701.1999999999994,760 L706.1999999999994,753.5 M704.9999999999993,760 L709.9999999999993,753.5 M708.7999999999993,760 L713.7999999999993,753.5 M712.5999999999992,760 L717.5999999999992,753.5 M716.3999999999992,760 L721.3999999999992,753.5 M720.1999999999991,760 L725.1999999999991,753.5 M723.9999999999991,760 L728.9999999999991,753.5 M727.799999999999,760 L732.799999999999,753.5 M731.599999999999,760 L736.599999999999,753.5 M735.399999999999,760 L740.399999999999,753.5 M739.1999999999989,760 L744.1999999999989,753.5 M742.9999999999989,760 L747.9999999999989,753.5 M746.7999999999988,760 L751.7999999999988,753.5 " stroke="#444" stroke-width="1.0" fill="none" />
<path d="M646.5,647.2 L775.5,647.2 Q778,647.2 778,650 C778.5,662 775,684 765,700 C759,711 752,719 746.6,725.6 L718.5,725.6 M676.5,725.6 L646.5,725.6" stroke="#111" stroke-width="1.9" fill="none" />
<path d="M684.9,649 L689.8,662.5 M765,649 L763,659.5" stroke="#222" stroke-width="1.0" fill="none" />
<path d="M682.4,667.4 Q683,664.5 690,663.5 L763,659.5 Q770,660.5 776,662.8" stroke="#222" stroke-width="1.2" fill="none" />
<path d="M775.4,665.6 C768,676 752,686 726.5,695 Q722,696.5 721.2,699 L720.3,702.8" stroke="#222" stroke-width="1.2" fill="none" />
<path d="M683,668 C686,680 693,697 697.1,715.7" stroke="#222" stroke-width="1.1" fill="none" />
<line x1="694.7" y1="702.8" x2="720.3" y2="702.8" stroke="#222" stroke-width="1.0" />
<path d="M720.3,702.8 L718.3,720 Q716,735.5 698,736 Q680,735.5 677.5,720 L676.5,712 Q675,704 668.5,708.3 L656.7,709.7 L656.7,684.2 L686,684.2" stroke="#222" stroke-width="1.3" fill="none" />
<path d="M647,652.5 L650,652.5 Q652,653 652,656 L652,669 Q652,671.2 655,671.2 L683.7,672.3" stroke="#222" stroke-width="1.2" fill="none" />
<path d="M652,654.3 L660,654.3 Q662,654.5 662,657 L662,666 Q662,668.8 660,668.8 L652,668.8" stroke="#222" stroke-width="1.2" fill="none" />
<line x1="660" y1="656" x2="660" y2="667" stroke="#555" stroke-width="0.8" />
<line x1="661" y1="656" x2="661" y2="667" stroke="#777" stroke-width="0.6" />
<line x1="647" y1="661.8" x2="657" y2="661.8" stroke="#333" stroke-width="0.9" />
<line x1="640" y1="654.2" x2="652" y2="654.2" stroke="#333" stroke-width="0.9" stroke-dasharray="3 2"/>
<line x1="640" y1="670" x2="652" y2="670" stroke="#333" stroke-width="0.9" stroke-dasharray="3 2"/>
<line x1="640" y1="683.3" x2="652" y2="683.3" stroke="#333" stroke-width="0.9" stroke-dasharray="3 2"/>
<line x1="640" y1="696.7" x2="652" y2="696.7" stroke="#333" stroke-width="0.9" stroke-dasharray="3 2"/>
<line x1="640" y1="710.8" x2="652" y2="710.8" stroke="#333" stroke-width="0.9" stroke-dasharray="3 2"/>
<line x1="610" y1="654.4" x2="646" y2="654.4" stroke="#444" stroke-width="1.0" />
<line x1="609.6" y1="669.4" x2="648" y2="669.4" stroke="#444" stroke-width="1.0" />
<line x1="614" y1="630" x2="614" y2="646" stroke="#444" stroke-width="1.0" />
<polygon points="614,654.4 611.0,645.4 617.0,645.4" fill="#111"/>
<line x1="614" y1="678" x2="614" y2="692" stroke="#444" stroke-width="1.0" />
<polygon points="614,669.4 611.0,678.4 617.0,678.4" fill="#111"/>
<text x="583.0" y="639.2" font-size="18.3" text-anchor="middle" dominant-baseline="central" fill="#111" letter-spacing="2.0" stroke="#222" stroke-width="0.35">Ø55</text>
<line x1="578" y1="683.6" x2="608" y2="683.6" stroke="#444" stroke-width="1.0" />
<line x1="622" y1="683.6" x2="652" y2="683.6" stroke="#444" stroke-width="1.0" />
<line x1="577" y1="710.6" x2="652" y2="710.6" stroke="#444" stroke-width="1.0" />
<line x1="584" y1="660" x2="584" y2="675" stroke="#444" stroke-width="1.0" />
<polygon points="584,683.6 581.0,674.6 587.0,674.6" fill="#111"/>
<line x1="584" y1="719" x2="584" y2="734" stroke="#444" stroke-width="1.0" />
<polygon points="584,710.6 581.0,719.6 587.0,719.6" fill="#111"/>
<line x1="613" y1="697" x2="659" y2="697" stroke="#444" stroke-width="1.0" stroke-dasharray="3.5 2.5"/>
<text x="574.3" y="697.5" font-size="18.5" text-anchor="middle" dominant-baseline="central" fill="#111" letter-spacing="1.6" stroke="#222" stroke-width="0.35">Ø100</text>
<line x1="510" y1="697" x2="542" y2="697" stroke="#444" stroke-width="1.0" />
<line x1="510" y1="754" x2="639" y2="754" stroke="#444" stroke-width="1.0" />
<line x1="517.6" y1="672" x2="517.6" y2="689" stroke="#444" stroke-width="1.0" />
<polygon points="517.6,697 514.6,688 520.6,688" fill="#111"/>
<line x1="517.6" y1="762" x2="517.6" y2="777" stroke="#444" stroke-width="1.0" />
<polygon points="517.6,754 514.6,763 520.6,763" fill="#111"/>
<text x="518.6" y="725.7" font-size="18.5" text-anchor="middle" dominant-baseline="central" fill="#111" letter-spacing="1.2" stroke="#222" stroke-width="0.35">210</text>
<line x1="780" y1="647.8" x2="869.8" y2="647.8" stroke="#444" stroke-width="1.0" />
<line x1="756.9" y1="753" x2="870.7" y2="753" stroke="#444" stroke-width="1.0" />
<line x1="864.4" y1="656" x2="864.4" y2="690" stroke="#444" stroke-width="1.0" />
<line x1="864.4" y1="712" x2="864.4" y2="745" stroke="#444" stroke-width="1.0" />
<polygon points="864.4,648 861.4,658 867.4,658" fill="#111"/>
<polygon points="864.4,752.7 861.4,742.7 867.4,742.7" fill="#111"/>
<text x="864.9" y="702.4" font-size="18.8" text-anchor="middle" dominant-baseline="central" fill="#111" letter-spacing="1.2" stroke="#222" stroke-width="0.35">400</text>
<line x1="752.4" y1="726" x2="774.7" y2="726" stroke="#444" stroke-width="1.0" />
<line x1="792.4" y1="726" x2="833.3" y2="726" stroke="#444" stroke-width="1.0" />
<line x1="705" y1="737.2" x2="792.4" y2="737.2" stroke="#444" stroke-width="1.0" />
<line x1="824.4" y1="702" x2="824.4" y2="718" stroke="#444" stroke-width="1.0" />
<polygon points="824.4,726 821.4,717 827.4,717" fill="#111"/>
<line x1="824.4" y1="762" x2="824.4" y2="778.4" stroke="#444" stroke-width="1.0" />
<polygon points="824.4,753 821.4,762 827.4,762" fill="#111"/>
<text x="824.7" y="739" font-size="18.5" text-anchor="middle" dominant-baseline="central" fill="#111" letter-spacing="1.0" stroke="#222" stroke-width="0.35">100</text>
<line x1="783.2" y1="712.7" x2="783.2" y2="729" stroke="#444" stroke-width="1.0" />
<polygon points="783.2,737.2 780.2,728.2 786.2,728.2" fill="#111"/>
<line x1="783.2" y1="762" x2="783.2" y2="778.4" stroke="#444" stroke-width="1.0" />
<polygon points="783.2,753 780.2,762 786.2,762" fill="#111"/>
<text x="762.8000000000001" y="767.2" font-size="18.3" text-anchor="middle" dominant-baseline="central" fill="#111" letter-spacing="1.2" stroke="#222" stroke-width="0.35">50</text>
</svg>
</body></html>
